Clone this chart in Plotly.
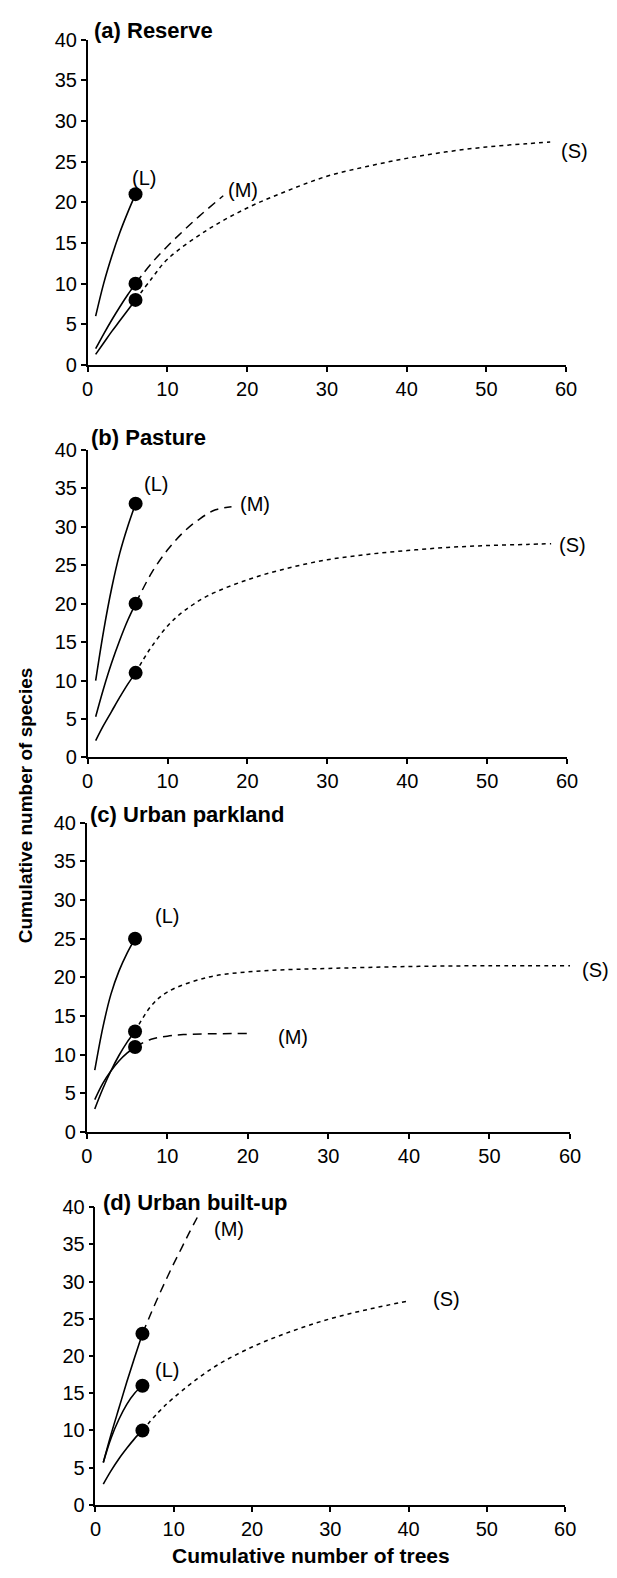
import plotly.graph_objects as go

W, H = 617, 1578

OBS_X = [1, 2, 3, 4, 5, 6]
X_TICKS = [0, 10, 20, 30, 40, 50, 60]
Y_TICKS = [0, 5, 10, 15, 20, 25, 30, 35, 40]
PANEL_TITLES = ["(a) Reserve", "(b) Pasture", "(c) Urban parkland", "(d) Urban built-up"]
SERIES = ["(L)", "(M)", "(S)"]

# Panel (a)
A_L_OBS = [6, 10, 13.3, 16.2, 18.7, 21]
A_M_OBS = [2, 3.8, 5.5, 7.1, 8.6, 10]
A_S_OBS = [1.3, 2.7, 4.1, 5.4, 6.7, 8]
A_M_EXT_X = [6, 8, 10, 12, 14, 17]
A_M_EXT_Y = [10, 12.5, 14.6, 16.5, 18.3, 20.8]
A_S_EXT_X = [6, 8, 10, 15, 20, 25, 30, 35, 40, 45, 50, 55, 58]
A_S_EXT_Y = [8, 10.6, 13, 16.6, 19.3, 21.4, 23.2, 24.4, 25.4, 26.2, 26.8, 27.2, 27.4]

# Panel (b)
B_L_OBS = [10, 16.5, 22, 26.5, 30, 33]
B_M_OBS = [5.3, 9, 12.3, 15.2, 17.8, 20]
B_S_OBS = [2.2, 4.2, 6, 7.8, 9.5, 11]
B_M_EXT_X = [6, 8, 10, 12, 14, 16, 18]
B_M_EXT_Y = [20, 24, 27, 29.3, 31, 32.2, 32.6]
B_S_EXT_X = [6, 7, 8, 10, 12, 15, 20, 25, 30, 35, 40, 45, 50, 55, 58]
B_S_EXT_Y = [11, 12.8, 14.4, 17.1, 19.0, 21.0, 23.1, 24.6, 25.7, 26.4, 26.9, 27.3, 27.55, 27.7, 27.8]

# Panel (c)
C_L_OBS = [8, 13.5, 17.8, 20.8, 23.1, 25]
C_M_OBS = [4.2, 6.3, 7.9, 9.2, 10.2, 11]
C_S_OBS = [3, 5.6, 7.9, 9.9, 11.6, 13]
C_M_EXT_X = [6, 8, 10, 12, 15, 20]
C_M_EXT_Y = [11, 12, 12.4, 12.6, 12.7, 12.75]
C_S_EXT_X = [6, 8, 10, 15, 20, 25, 30, 40, 50, 60]
C_S_EXT_Y = [13, 16.3, 18.1, 20.0, 20.7, 21.0, 21.15, 21.4, 21.5, 21.5]

# Panel (d)
D_L_OBS = [5.7, 9, 11.5, 13.5, 15, 16]
D_M_OBS = [5.7, 9.5, 13, 16.5, 19.8, 23]
D_S_OBS = [2.8, 4.6, 6.2, 7.6, 8.9, 10]
D_M_EXT_X = [6, 7, 8, 9, 10, 11, 12, 13]
D_M_EXT_Y = [23, 25.5, 27.9, 30.2, 32.4, 34.5, 36.6, 38.6]
D_S_EXT_X = [6, 8, 10, 15, 20, 25, 30, 35, 40]
D_S_EXT_Y = [10, 12.4, 14.4, 18.4, 21.2, 23.3, 25, 26.3, 27.4]

# label anchor positions (data units) for (L), (M), (S)
A_LABELS = [(7.0, 23.0), (19.5, 21.5), (61.0, 26.3)]
B_LABELS = [(8.6, 35.5), (21.0, 33.0), (60.6, 27.6)]
C_LABELS = [(10.0, 27.9), (25.6, 12.3), (63.1, 20.9)]
D_LABELS = [(9.1, 18.1), (17.0, 37.0), (44.8, 27.7)]

panels = [
    dict(obs=[A_L_OBS, A_M_OBS, A_S_OBS], mext=(A_M_EXT_X, A_M_EXT_Y), sext=(A_S_EXT_X, A_S_EXT_Y),
         labels=A_LABELS, px=(84, 576), py=(29, 359), title_pos=(88, 20)),
    dict(obs=[B_L_OBS, B_M_OBS, B_S_OBS], mext=(B_M_EXT_X, B_M_EXT_Y), sext=(B_S_EXT_X, B_S_EXT_Y),
         labels=B_LABELS, px=(84, 577), py=(445, 757), title_pos=(85, 433)),
    dict(obs=[C_L_OBS, C_M_OBS, C_S_OBS], mext=(C_M_EXT_X, C_M_EXT_Y), sext=(C_S_EXT_X, C_S_EXT_Y),
         labels=C_LABELS, px=(83, 580), py=(823, 1137), title_pos=(84, 815)),
    dict(obs=[D_L_OBS, D_M_OBS, D_S_OBS], mext=(D_M_EXT_X, D_M_EXT_Y), sext=(D_S_EXT_X, D_S_EXT_Y),
         labels=D_LABELS, px=(92, 575), py=(1213, 1515), title_pos=(98, 1208)),
]

FONT = "Liberation Sans, Arial, sans-serif"
TICK_SIZE = 20
fig = go.Figure()
annotations = []
layout_axes = {}

for i, p in enumerate(panels):
    n = i + 1
    xa = "x" if n == 1 else f"x{n}"
    ya = "y" if n == 1 else f"y{n}"
    for obs in p["obs"]:
        fig.add_trace(go.Scatter(x=OBS_X, y=obs, mode="lines",
                                 line=dict(color="black", width=1.6, shape="spline"),
                                 xaxis=xa, yaxis=ya, showlegend=False, hoverinfo="skip"))
    mx, my = p["mext"]
    fig.add_trace(go.Scatter(x=mx, y=my, mode="lines",
                             line=dict(color="black", width=1.5, dash="9px,6px", shape="spline"),
                             xaxis=xa, yaxis=ya, showlegend=False, hoverinfo="skip"))
    sx, sy = p["sext"]
    fig.add_trace(go.Scatter(x=sx, y=sy, mode="lines",
                             line=dict(color="black", width=1.5, dash="4px,4px", shape="spline"),
                             xaxis=xa, yaxis=ya, showlegend=False, hoverinfo="skip"))
    fig.add_trace(go.Scatter(x=[OBS_X[-1]] * 3, y=[o[-1] for o in p["obs"]], mode="markers",
                             marker=dict(color="black", size=14),
                             xaxis=xa, yaxis=ya, showlegend=False, hoverinfo="skip"))
    x0, x1 = p["px"]
    y0, y1 = p["py"]
    ppu = (x1 - x0) / 60.0
    axstyle = dict(showgrid=False, zeroline=False, showline=True, linecolor="black", linewidth=1.6,
                   ticks="outside", ticklen=5, tickwidth=1.6, tickcolor="black",
                   tickfont=dict(family=FONT, size=TICK_SIZE, color="black"))
    layout_axes["xaxis" if n == 1 else f"xaxis{n}"] = dict(
        domain=[x0 / W, x1 / W], range=[0, 60], tickvals=X_TICKS, anchor=ya, **axstyle)
    layout_axes["yaxis" if n == 1 else f"yaxis{n}"] = dict(
        domain=[1 - y1 / H, 1 - y0 / H], range=[0, 40], tickvals=Y_TICKS, anchor=xa, **axstyle)
    for name, (lx, ly) in zip(SERIES, p["labels"]):
        cx = min(lx, 60)
        annotations.append(dict(x=cx, y=ly, xref=xa, yref=ya, text=name, showarrow=False,
                                xshift=(lx - cx) * ppu, xanchor="center", yanchor="middle",
                                font=dict(family=FONT, size=TICK_SIZE, color="black")))
    tx, ty = p["title_pos"]
    annotations.append(dict(x=tx / W, y=1 - ty / H, xref="paper", yref="paper", xanchor="left",
                            yanchor="middle", text=f"<b>{PANEL_TITLES[i]}</b>", showarrow=False,
                            font=dict(family=FONT, size=22, color="black")))

annotations.append(dict(x=20 / W, y=1 - 805 / H, xref="paper", yref="paper", textangle=-90,
                        xanchor="center", yanchor="middle",
                        text="<b>Cumulative number of species</b>", showarrow=False,
                        font=dict(family=FONT, size=19, color="black")))
annotations.append(dict(x=314 / W, y=1 - 1566 / H, xref="paper", yref="paper",
                        xanchor="center", yanchor="middle",
                        text="<b>Cumulative number of trees</b>", showarrow=False,
                        font=dict(family=FONT, size=21, color="black")))

fig.update_layout(width=W, height=H, margin=dict(l=0, r=0, t=0, b=0),
                  plot_bgcolor="white", paper_bgcolor="white", annotations=annotations, **layout_axes)
fig.write_html("out.html", config={"displayModeBar": False},
               post_script="document.body.style.margin='0';document.body.style.overflow='hidden';"
                           "document.documentElement.style.overflow='hidden';")
